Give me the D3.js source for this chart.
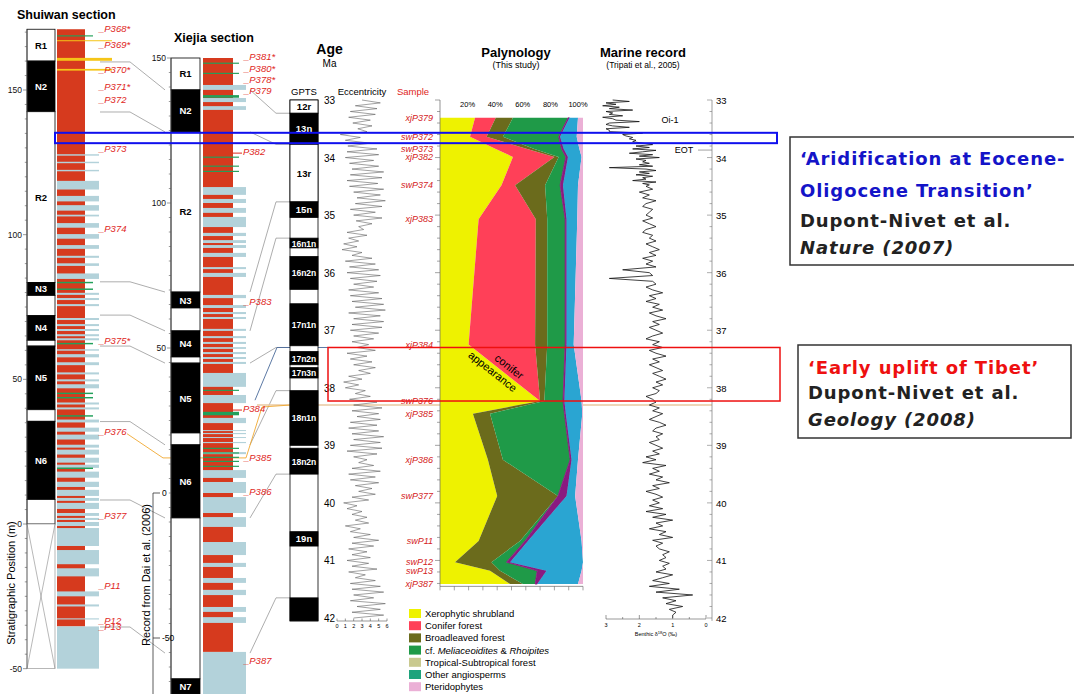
<!DOCTYPE html>
<html><head><meta charset="utf-8">
<script src="https://cdn.jsdelivr.net/npm/d3@7"></script>
<style>body{margin:0;background:#fff}svg{display:block}</style>
</head><body><script>
// ================= DATA =================
// Age axis (Ma)
const ageTicks=[33,34,35,36,37,38,39,40,41,42];
// GPTS chrons
const gptsNames=["12r","13n","13r","15n","16n1n","16n2n","17n1n","17n2n","17n3n","18n1n","18n2n","19n",""];
const gptsTop=[33.0,33.23,33.77,34.77,35.40,35.72,36.54,37.37,37.65,38.05,39.05,40.5,41.65];
const gptsBase=[33.23,33.77,34.77,35.04,35.57,36.29,37.27,37.60,37.83,39.0,39.5,40.75,42.05];
const gptsNormal=[0,1,0,1,1,1,1,1,1,1,1,1,1];
// Eccentricity (0.05 Ma steps from 33.0 Ma)
const eccStart=33.0, eccStep=0.05;
const eccentricity=[3.0,5.2,2.2,4.8,1.6,4.6,1.4,4.0,1.9,4.2,2.5,3.6,0.4,2.8,1.0,4.0,1.3,4.8,1.2,5.0,
1.0,4.4,1.5,5.0,1.8,5.6,1.6,5.4,1.2,4.9,1.5,5.6,2.0,5.2,2.4,5.8,2.2,5.4,1.6,4.6,
2.0,5.4,2.3,4.2,2.6,3.2,1.2,3.6,1.4,2.6,0.8,2.4,0.6,3.0,1.8,4.2,1.0,4.6,1.5,5.0,
1.2,5.2,1.6,4.8,2.0,4.4,1.4,5.0,1.6,5.4,1.8,5.6,2.2,5.8,1.4,5.2,2.0,5.6,1.8,5.4,
1.6,5.0,2.0,4.4,1.8,3.8,2.4,4.6,1.2,3.6,1.6,4.2,2.0,4.6,2.6,4.0,1.4,3.0,0.8,2.6,
1.0,3.4,2.2,4.0,1.5,4.8,2.0,5.4,1.8,5.0,2.4,5.2,1.6,4.8,1.4,5.0,1.8,5.6,2.0,5.2,
1.6,5.4,1.2,4.8,2.0,3.6,2.6,4.4,1.8,5.2,1.4,4.6,1.6,5.0,2.2,4.2,2.6,4.6,1.8,3.8,
0.8,2.4,1.2,3.0,1.8,3.6,2.2,3.8,1.0,2.8,1.6,4.0,2.0,5.0,1.8,4.4,1.4,3.6,1.8,4.0,
1.2,3.8,1.8,4.8,1.4,3.4,2.2,4.6,1.6,5.2,1.8,5.6,2.0,4.4,1.6,5.8,2.4,5.2,1.8,5.6,2.0];
const eccTicks=[0,1,2,3,4,5,6];
// Marine benthic d18O (Tripati et al., 2005)
const marineStartA=33.0, marineStepA=0.025;
const marineA=[2.8,2.3,3.0,2.7,3.1,2.6,2.9,2.2,3.0,2.8,2.9,2.5,3.1,2.8,2.7,2.0,2.9,3.0,2.8,2.3,3.0,2.9,2.9,1.9,
2.5,2.4,2.2,2.3,2.1,2.2,
1.9,1.6,2.1,1.7,2.2,1.5,1.9,2.3,1.6,2.0,1.4,2.1,1.8,1.9,1.7,2.0,1.6,2.9,1.8,1.5,2.0,1.7,2.1,1.6,1.9,1.8,2.2,1.5,1.9,1.7];
const marineStartB=34.5, marineStepB=0.05;
const marineB=[1.8,1.6,2.0,1.7,1.9,1.5,1.8,1.9,1.6,1.7,
1.8,1.6,1.9,1.7,1.5,1.8,1.9,1.6,1.7,1.5,1.8,1.6,1.4,1.7,1.5,1.9,1.6,1.8,1.5,2.5,
1.7,1.6,2.9,1.6,1.5,1.8,1.6,1.3,1.7,1.5,1.8,1.4,1.6,1.3,1.7,1.5,1.2,1.6,1.4,1.7,
1.5,1.3,1.6,1.8,1.4,1.6,1.3,1.7,1.5,1.2,1.6,1.4,1.7,1.5,1.3,1.6,1.4,1.2,1.5,1.3,
1.6,1.4,1.5,1.8,1.6,1.5,1.7,1.4,1.6,1.3,1.5,1.7,1.4,1.2,1.5,1.6,1.3,1.5,1.4,1.7,
1.5,1.3,1.6,1.4,1.8,1.5,1.9,1.2,1.6,1.4,1.7,1.3,1.5,1.1,1.6,1.4,1.8,1.5,1.3,1.6,
1.4,1.7,1.3,1.8,1.2,1.6,1.0,1.5,1.3,1.7,1.2,1.4,1.0,1.6,1.3,1.5,1.4,1.1,1.3,1.2,
1.4,1.1,1.3,1.2,1.5,1.0,1.3,1.6,1.1,1.7,0.8,1.5,0.4,1.3,0.9,1.2,0.7,1.1,0.9,1.0,1.0];
const marineTicks=[3,2,1,0];
// Palynology samples (%)
const sampleNames=["xjP379","swP372","swP373","xjP382","swP374","xjP383","xjP384","swP376","xjP385","xjP386","swP377","swP11","swP12","swP13","xjP387"];
const sampleAges=[33.31,33.64,33.85,33.99,34.48,35.07,37.25,38.23,38.45,39.25,39.88,40.66,41.03,41.18,41.41];
const xerophytic=[24.5,21,39,51,43,27,20,70,23,33.5,40,27,10.5,35,49];
const conifer=[14.5,11.6,22,29,9.5,40,46.5,0,0,0,0,0,0,0,0];
const broadleaved=[12,11.4,5,3,21,8,8.5,3,12,10.5,42.5,29,25.5,7,9];
const meliaceoidites=[38.5,39,19,5,10.5,12.5,12.5,13,52,47,0,3.5,10.5,26,8.5];
const tropical=[0,0,0,0,0,0,0,0,0,0,0,0,0,0,0];
const otherAngio=[0,0,0,0,0,0,0,0,0,0,0,0,0,0,0];
const purpleGroup=[1,1,1.5,1.5,2,1,1,1,1,1,6,2,2.5,6.5,1.5];
const blueGroup=[6,11.6,11,9.5,10.5,7.5,5,12,11.5,4.5,6,37.5,51,24.5,28.5];
const pteridophytes=[3.5,4.4,2.5,1,3.5,4,6.5,1,0.5,3.5,5.5,1,0,1,3.5];
const pctTicks=[20,40,60,80,100];
const legendNames=["Xerophytic shrubland","Conifer forest","Broadleaved forest","cf. Meliaceoidites & Rhoipites","Tropical-Subtropical forest","Other angiosperms","Pteridophytes"];
// Shuiwan section (m)
const swZoneLabels=["R1","N2","R2","N3","","N4","","N5","","N6",""];
const swZoneTops=[171,160,142.5,83.5,79,72,63.5,61.5,39.5,35.5,8.5];
const swZoneBases=[160,142.5,83.5,79,72,63.5,61.5,39.5,35.5,8.5,0];
const swZoneNormal=[0,1,0,1,0,1,0,1,0,1,0];
const swBlue=[[127.8,127.3],[125.2,124.7],[122.4,121.9],[118.6,115.6],[113.4,111.5],[110.2,108.3],[106.9,106.3],[104.0,102.4],[100.2,98.6],[96.4,95.1],
[92.7,92.0],[90.1,89.2],[86.6,84.7],[79.9,79.2],[78.1,77.4],[76.0,75.3],[71.2,70.5],[69.1,68.4],[67.4,66.7],[65.6,64.9],
[64.2,63.5],[60.4,59.9],[58.7,57.6],[55.9,54.9],[52.4,51.7],[50.0,49.3],[48.3,46.9],[42.0,41.3],[40.3,39.6],[36.1,35.1],
[33.3,31.9],[30.9,29.2],[27.4,26.4],[25.7,24.0],[22.9,21.2],[20.5,19.4],[18.1,16.0],[14.6,12.8],[11.8,9.7],[9.0,8.0],
[7.3,5.2],[3.8,2.8],[2.1,1.4],[0.7,-0.7],[-1.4,-7.6],[-9.0,-13.9],[-15.3,-18.1],[-23.3,-25.0],[-27.8,-28.5],[-32.6,-33.0],[-35.4,-50]];
const swGreen=[[168.9,168.5],[83.7,83.2],[81.4,80.9],[62.6,62.1],[45.4,44.9],[43.9,43.4],[37.6,37.1],[19.5,19.0]];
const swYellow=[[167.2,166.9],[161.1,160.1],[157.3,156.7]];
const swSamples=["_P368*","_P369*","_P370*","_P371*","_P372","_P373","_P374","_P375*","_P376","_P377","_P11","_P12","_P13"];
const swSampleM=[170.8,165.3,156.6,150.7,146.2,129.2,101.7,62.8,31.3,2.4,-21.9,-33.7,-36.1];
const swAxisLabels=[150,100,50,0,-50];
// Xiejia section (m)
const xjZoneLabels=["R1","N2","R2","N3","","N4","","N5","","N6","","N7"];
const xjZoneTops=[150,139,124.5,69.3,63.8,55.9,46.9,44.8,20.7,16.6,-8.6,-64.1];
const xjZoneBases=[139,124.5,69.3,63.8,55.9,46.9,44.8,20.7,16.6,-8.6,-64.1,-69.3];
const xjZoneNormal=[0,1,0,1,0,1,0,1,0,1,0,1];
const xjBlue=[[140.7,139.0],[136.2,134.8],[133.4,132.1],[105.5,102.8],[101.4,100.0],[98.3,96.6],[95.2,91.7],[89.7,88.6],[87.2,86.2],[85.5,84.5],
[82.8,81.4],[77.9,77.2],[75.9,74.5],[68.3,67.2],[64.8,63.8],[62.4,61.7],[60.7,60.0],[56.6,55.9],[54.1,53.4],[52.1,51.4],
[50.3,49.7],[48.6,47.9],[46.9,46.2],[45.2,44.5],[41.4,36.6],[33.8,31.0],[25.9,24.1],[21.7,21.4],[20.7,20.3],[19.3,19.0],
[17.6,17.2],[14.1,13.4],[7.9,5.2],[3.8,0],[-1.4,-6.9],[-8.3,-11.7],[-16.9,-21.4],[-24.1,-25.5],[-29.3,-31.0],[-33.4,-35.2],
[-39.3,-41.0],[-42.8,-44.8],[-54.8,-72]];
const xjGreen=[[148.4,148.0],[144.9,144.5],[137.2,136.3],[116.0,115.6],[112.9,112.5],[111.1,110.7],[35.6,35.2],[28.0,26.8],[15.6,15.2],[14.0,13.6],[12.5,12.1],[11.1,10.7],[9.4,9.0]];
const xjSamples=["_P381*","_P380*","_P378*","_P379","P382","_P383","P384","_P385","_P386","_P387"];
const xjSampleM=[150,145.9,142.1,138.3,117.2,65.5,28.6,11.7,0,-58.3];
const xjAxisLabels=[150,100,50];
const daiAxisLabels=[0,-50];
// Correlation ties
const swXjTies=[[159.7,139],[142.4,124.5],[83.7,69.3],[72.2,55.9],[61.5,44.8],[35.4,16.6],[8.3,-8.6],[-35.6,-55.2]];
const xjGptsTies=[[139,33.23],[124.5,33.77],[69.3,34.77],[55.9,35.40],[44.8,37.3],[16.6,38.05],[-8.6,39.5],[-55.2,41.65]];
const p376Tie={sw:31.2,xj:12.1,age:38.3};
const p384Tie={xj:32,age:37.3};
// Highlight intervals (Ma)
const eotBox=[33.57,33.75];
const upliftBox=[37.30,38.23];

// ================= DRAW =================
const FONT="'Liberation Sans', Arial, sans-serif";
const RED="#d63a1e", PALE="#b3d2da", GREEN="#22a05a", YEL="#f5c518";
const svg=d3.select("body").append("svg").attr("width",1074).attr("height",694).style("font-family",FONT);

const ageY=d3.scaleLinear().domain([33,42]).range([100,618]);
const swY=d3.scaleLinear().domain([0,150]).range([524,90]);
const xjY=d3.scaleLinear().domain([50,150]).range([348,58]);
const eccX=d3.scaleLinear().domain([0,6]).range([337,387]);
const pX=d3.scaleLinear().domain([0,100]).range([440,583]);
const mX=d3.scaleLinear().domain([3,0]).range([606,706]);

function bands(g,data,yS,x0,x1,fill){
  g.selectAll(null).data(data).join("rect")
   .attr("x",x0).attr("width",x1-x0)
   .attr("y",d=>yS(d[0])).attr("height",d=>Math.max(1,yS(d[1])-yS(d[0]))).attr("fill",fill);
}
function zones(g,tops,bases,normal,labels,yS,x0,x1){
  const idx=d3.range(tops.length);
  g.selectAll(null).data(idx).join("rect")
   .attr("x",x0).attr("width",x1-x0).attr("y",i=>yS(tops[i])).attr("height",i=>yS(bases[i])-yS(tops[i]))
   .attr("fill",i=>normal[i]?"#000":"#fff").attr("stroke","#000").attr("stroke-width",0.8);
  g.selectAll(null).data(idx.filter(i=>labels[i])).join("text")
   .attr("x",(x0+x1)/2).attr("y",i=>(yS(tops[i])+yS(bases[i]))/2+3.5).attr("text-anchor","middle")
   .attr("font-size",9.5).attr("font-weight","bold").attr("fill",i=>normal[i]?"#fff":"#000").text(i=>labels[i]);
}
function vAxis(g,x,yS,from,to,step,labels,side,labelX,anchor){
  g.append("line").attr("x1",x).attr("x2",x).attr("y1",yS(from)).attr("y2",yS(to)).attr("stroke","#555").attr("stroke-width",0.7);
  const t=d3.range(Math.ceil(to/step)*step,from+0.001,step);
  g.selectAll(null).data(t).join("line").attr("x1",x).attr("x2",d=>x+side*(labels.includes(d)?4:2.2))
   .attr("y1",d=>yS(d)).attr("y2",d=>yS(d)).attr("stroke","#555").attr("stroke-width",0.6);
  g.selectAll(null).data(labels).join("text").attr("x",labelX).attr("y",d=>yS(d)+3).attr("text-anchor",anchor)
   .attr("font-size",8.5).attr("fill","#111").text(d=>d);
}

// ---- correlation lines (behind) ----
const tie=svg.append("g").attr("fill","none").attr("stroke","#8a8a8a").attr("stroke-width",0.7);
swXjTies.forEach(([a,b])=>tie.append("path").attr("d",d3.line()([[100,swY(a)],[130,swY(a)],[165,xjY(b)]])));
xjGptsTies.forEach(([m,a])=>tie.append("path").attr("d",d3.line()([[250,xjY(m)],[276,ageY(a)],[290,ageY(a)]])));
svg.append("line").attr("x1",257).attr("x2",712).attr("y1",ageY(p376Tie.age)).attr("y2",ageY(p376Tie.age))
  .attr("stroke","#e9c9a0").attr("stroke-width",1.6);
svg.append("path").attr("fill","none").attr("stroke","#f0a830").attr("stroke-width",0.9)
  .attr("d",d3.line()([[127,swY(p376Tie.sw)],[163,xjY(p376Tie.xj)],[246,xjY(p376Tie.xj)],[262,ageY(p376Tie.age)+2],[290,ageY(p376Tie.age)]]));
svg.append("path").attr("fill","none").attr("stroke","#4a6a9a").attr("stroke-width",0.9)
  .attr("d",d3.line()([[255,xjY(p384Tie.xj)],[277,ageY(p384Tie.age)],[330,ageY(p384Tie.age)]]));

// ---- Shuiwan section ----
const sw=svg.append("g");
sw.append("text").attr("x",17).attr("y",19).attr("font-size",12.5).attr("font-weight","bold").text("Shuiwan section");
sw.append("rect").attr("x",57).attr("width",28).attr("y",swY(171)).attr("height",swY(-35.4)-swY(171)).attr("fill",RED);
bands(sw,swBlue,swY,57,99,PALE);
bands(sw,swGreen,swY,57,93,GREEN);
bands(sw,swYellow,swY,57,112,YEL);
zones(sw,swZoneTops,swZoneBases,swZoneNormal,swZoneLabels,swY,27,55);
sw.append("rect").attr("x",27).attr("width",28).attr("y",swY(0)).attr("height",swY(-50)-swY(0)).attr("fill","#fff").attr("stroke","#888").attr("stroke-width",0.6);
sw.append("path").attr("fill","none").attr("stroke","#888").attr("stroke-width",0.6)
  .attr("d",`M27,${swY(0)}L55,${swY(-50)}M55,${swY(0)}L27,${swY(-50)}`);
vAxis(sw,27,swY,171,-50,5,swAxisLabels,-1,22,"end");
sw.selectAll(null).data(swSamples).join("text").attr("x",99).attr("y",(d,i)=>swY(swSampleM[i])+2)
  .attr("font-size",9.5).attr("font-style","italic").attr("fill","#e0261c").text(d=>d);
sw.append("text").attr("transform",`translate(15,583) rotate(-90)`).attr("text-anchor","middle").attr("font-size",11).text("Stratigraphic Position (m)");

// ---- Xiejia section ----
const xj=svg.append("g");
xj.append("text").attr("x",174).attr("y",42).attr("font-size",12.5).attr("font-weight","bold").text("Xiejia section");
xj.append("rect").attr("x",203).attr("width",30).attr("y",xjY(150)).attr("height",xjY(-54.8)-xjY(150)).attr("fill",RED);
bands(xj,xjBlue,xjY,203,246,PALE);
bands(xj,xjGreen,xjY,203,239,GREEN);
zones(xj,xjZoneTops,xjZoneBases,xjZoneNormal,xjZoneLabels,xjY,171,200);
vAxis(xj,171,xjY,150,-72,5,xjAxisLabels,-1,166,"end");
// Dai et al. axis
xj.append("line").attr("x1",153).attr("x2",153).attr("y1",xjY(0)).attr("y2",694).attr("stroke","#333").attr("stroke-width",0.8);
xj.selectAll(null).data(daiAxisLabels).join("line").attr("x1",153).attr("x2",160).attr("y1",d=>xjY(d)).attr("y2",d=>xjY(d)).attr("stroke","#333").attr("stroke-width",0.8);
xj.selectAll(null).data(daiAxisLabels).join("text").attr("x",162).attr("y",d=>xjY(d)+3).attr("font-size",8.5).text(d=>d);
xj.append("text").attr("transform",`translate(150,575) rotate(-90)`).attr("text-anchor","middle").attr("font-size",11).text("Record from Dai et al. (2006)");
xj.selectAll(null).data(xjSamples).join("text").attr("x",(d)=>d.startsWith("_")?244:243).attr("y",(d,i)=>xjY(xjSampleM[i])+2)
  .attr("font-size",9.5).attr("font-style","italic").attr("fill","#e0261c").text(d=>d);
xj.selectAll(null).data(xjSamples.map((d,i)=>i).filter(i=>!xjSamples[i].startsWith("_"))).join("line")
  .attr("x1",233).attr("x2",242).attr("y1",i=>xjY(xjSampleM[i])).attr("y2",i=>xjY(xjSampleM[i])).attr("stroke","#e0261c").attr("stroke-width",1);

// ---- Age / GPTS ----
const gp=svg.append("g");
gp.append("text").attr("x",329.5).attr("y",54).attr("text-anchor","middle").attr("font-size",14).attr("font-weight","bold").text("Age");
gp.append("text").attr("x",329.5).attr("y",67).attr("text-anchor","middle").attr("font-size",10).text("Ma");
gp.append("text").attr("x",304).attr("y",95).attr("text-anchor","middle").attr("font-size",9.5).text("GPTS");
gp.append("text").attr("x",362).attr("y",95).attr("text-anchor","middle").attr("font-size",9.5).text("Eccentricity");
gp.append("text").attr("x",413).attr("y",95).attr("text-anchor","middle").attr("font-size",9.5).attr("fill","#e0261c").text("Sample");
gp.append("rect").attr("x",290).attr("width",28).attr("y",ageY(33)).attr("height",ageY(42.05)-ageY(33)).attr("fill","#fff").attr("stroke","#000").attr("stroke-width",0.8);
zones(gp,gptsTop,gptsBase,gptsNormal,gptsNames,ageY,290,318);
gp.selectAll("text").filter(function(){return /n1n|n2n|n3n/.test(this.textContent);}).attr("font-size",8.5);
gp.selectAll(null).data(ageTicks).join("text").attr("x",329.5).attr("y",d=>ageY(d)+4).attr("text-anchor","middle").attr("font-size",10).text(d=>d);
// eccentricity
gp.append("path").datum(eccentricity).attr("fill","none").attr("stroke","#555").attr("stroke-width",0.55)
  .attr("d",d3.line().x(d=>eccX(d)).y((d,i)=>ageY(eccStart+i*eccStep)));
gp.append("line").attr("x1",337).attr("x2",387).attr("y1",621).attr("y2",621).attr("stroke","#555").attr("stroke-width",0.6);
gp.selectAll(null).data(eccTicks).join("line").attr("x1",d=>eccX(d)).attr("x2",d=>eccX(d)).attr("y1",621).attr("y2",618.5).attr("stroke","#555").attr("stroke-width",0.6);
gp.selectAll(null).data(eccTicks).join("text").attr("x",d=>eccX(d)).attr("y",628).attr("text-anchor","middle").attr("font-size",5.5).text(d=>d);

// ---- Palynology ----
const pg=svg.append("g");
pg.append("text").attr("x",516).attr("y",57).attr("text-anchor","middle").attr("font-size",13).attr("font-weight","bold").text("Palynology");
pg.append("text").attr("x",516).attr("y",68).attr("text-anchor","middle").attr("font-size",9).text("(This study)");
const keys=["xero","conifer","broad","melia","tropical","otherAng","purple","blue","pterido"];
const colors={xero:"#eef200",conifer:"#ff4058",broad:"#6b6b1c",melia:"#1f9a48",tropical:"#c9c98f",otherAng:"#1ea37c",purple:"#8a1a80",blue:"#2aa5d2",pterido:"#ebb0d6"};
const rows=sampleAges.map((a,i)=>({age:a,xero:xerophytic[i],conifer:conifer[i],broad:broadleaved[i],melia:meliaceoidites[i],tropical:tropical[i],otherAng:otherAngio[i],purple:purpleGroup[i],blue:blueGroup[i],pterido:pteridophytes[i]}));
const stacked=d3.stack().keys(keys)(rows);
pg.selectAll(null).data(stacked).join("path").attr("fill",s=>colors[s.key]).attr("stroke",s=>s.key==="purple"?colors.purple:"none").attr("stroke-width",0.8)
  .attr("d",d3.area().y(d=>ageY(d.data.age)).x0(d=>pX(d[0])).x1(d=>pX(d[1])));
// axes
pg.append("line").attr("x1",440).attr("x2",440).attr("y1",ageY(33)).attr("y2",ageY(41.45)).attr("stroke","#666").attr("stroke-width",0.7);
pg.selectAll(null).data(d3.range(33,41.41,0.2)).join("line").attr("x1",440).attr("x2",d=>Math.abs(d-Math.round(d))<0.01?435:437)
  .attr("y1",d=>ageY(d)).attr("y2",d=>ageY(d)).attr("stroke","#666").attr("stroke-width",0.6);
pg.append("line").attr("x1",440).attr("x2",583).attr("y1",ageY(41.45)).attr("y2",ageY(41.45)).attr("stroke","#666").attr("stroke-width",0.7);
pg.selectAll(null).data(d3.range(0,101,10)).join("line").attr("x1",d=>pX(d)).attr("x2",d=>pX(d)).attr("y1",ageY(41.45)).attr("y2",ageY(41.45)+4).attr("stroke","#666").attr("stroke-width",0.6);
pg.selectAll(null).data(pctTicks).join("text").attr("x",d=>pX(d)-d*0.05).attr("y",107).attr("text-anchor","middle").attr("font-size",7.5).text(d=>d+"%");
pg.selectAll(null).data(sampleNames).join("text").attr("x",433).attr("y",(d,i)=>ageY(sampleAges[i])+3).attr("text-anchor","end")
  .attr("font-size",9).attr("font-style","italic").attr("fill","#d42222").text(d=>d);
// conifer appearance label along the xerophytic/conifer edge
{
  const i0=sampleNames.indexOf("xjP384"), i1=sampleNames.indexOf("swP376");
  const xa=pX(xerophytic[i0]), ya=ageY(sampleAges[i0]), xb=pX(xerophytic[i1]), yb=ageY(sampleAges[i1]);
  const ang=Math.atan2(yb-ya,xb-xa)*180/Math.PI, mx=(xa+xb)/2, my=(ya+yb)/2;
  pg.append("text").attr("transform",`translate(${mx},${my}) rotate(${ang}) translate(0,-4)`).attr("text-anchor","middle").attr("font-size",11).text("conifer");
  pg.append("text").attr("transform",`translate(${mx},${my}) rotate(${ang}) translate(-10,10)`).attr("text-anchor","middle").attr("font-size",11).text("appearance");
}
// legend
const lg=pg.append("g");
const legendColors=[colors.xero,colors.conifer,colors.broad,colors.melia,colors.tropical,colors.otherAng,colors.pterido];
legendNames.forEach((n,i)=>{
  const y=609+i*12.2;
  lg.append("rect").attr("x",409).attr("y",y).attr("width",12).attr("height",9).attr("fill",legendColors[i]);
  const t=lg.append("text").attr("x",425).attr("y",y+8).attr("font-size",9.5);
  if(n.startsWith("cf.")){
    t.append("tspan").text("cf. ");t.append("tspan").attr("font-style","italic").text("Meliaceoidites");
    t.append("tspan").text(" & ");t.append("tspan").attr("font-style","italic").text("Rhoipites");
  } else t.text(n);
});

// ---- Marine record ----
const mg=svg.append("g");
mg.append("text").attr("x",643).attr("y",57).attr("text-anchor","middle").attr("font-size",13).attr("font-weight","bold").text("Marine record");
mg.append("text").attr("x",643).attr("y",68).attr("text-anchor","middle").attr("font-size",8.5).text("(Tripati et al., 2005)");
const marinePts=marineA.map((v,i)=>[marineStartA+i*marineStepA,v]).concat(marineB.map((v,i)=>[marineStartB+i*marineStepB,v]));
mg.append("path").datum(marinePts).attr("fill","none").attr("stroke","#111").attr("stroke-width",0.8)
  .attr("d",d3.line().x(d=>mX(d[1])).y(d=>ageY(d[0])));
mg.append("line").attr("x1",712).attr("x2",712).attr("y1",ageY(33)).attr("y2",ageY(42.05)).attr("stroke","#777").attr("stroke-width",0.7);
mg.selectAll(null).data(d3.range(33,42.01,0.2)).join("line").attr("x1",712).attr("x2",d=>Math.abs(d-Math.round(d))<0.01?707:709.5)
  .attr("y1",d=>ageY(d)).attr("y2",d=>ageY(d)).attr("stroke","#777").attr("stroke-width",0.6);
mg.selectAll(null).data(ageTicks).join("text").attr("x",716).attr("y",d=>ageY(d)+4).attr("font-size",9.5).text(d=>d);
mg.append("line").attr("x1",606).attr("x2",706).attr("y1",619).attr("y2",619).attr("stroke","#555").attr("stroke-width",0.6);
mg.selectAll(null).data(d3.range(0,3.01,0.5)).join("line").attr("x1",d=>mX(d)).attr("x2",d=>mX(d)).attr("y1",619).attr("y2",d=>d%1===0?615:617).attr("stroke","#555").attr("stroke-width",0.6);
mg.selectAll(null).data(marineTicks).join("text").attr("x",d=>mX(d)).attr("y",627).attr("text-anchor","middle").attr("font-size",5.5).text(d=>d);
const bl=mg.append("text").attr("x",656).attr("y",636).attr("text-anchor","middle").attr("font-size",5.5);
bl.append("tspan").text("Benthic δ");bl.append("tspan").attr("font-size",4).attr("dy",-2).text("18");bl.append("tspan").attr("dy",2).text("O (‰)");
mg.append("text").attr("x",670).attr("y",123).attr("text-anchor","middle").attr("font-size",9).text("Oi-1");
mg.append("text").attr("x",684).attr("y",ageY(33.87)+3).attr("text-anchor","middle").attr("font-size",9).text("EOT");
mg.append("line").attr("x1",698).attr("x2",712).attr("y1",ageY(33.87)).attr("y2",ageY(33.87)).attr("stroke","#777").attr("stroke-width",0.7);

// ---- highlight boxes ----
svg.append("rect").attr("x",55).attr("width",722).attr("y",ageY(eotBox[0])).attr("height",ageY(eotBox[1])-ageY(eotBox[0]))
  .attr("fill","none").attr("stroke","#1010ee").attr("stroke-width",2);
svg.append("rect").attr("x",328).attr("width",452).attr("y",ageY(upliftBox[0])).attr("height",ageY(upliftBox[1])-ageY(upliftBox[0]))
  .attr("fill","none").attr("stroke","#ee1010").attr("stroke-width",1.5);

// ---- annotation boxes ----
const AF="'DejaVu Sans', Verdana, sans-serif";
const a1=svg.append("g").style("font-family",AF).attr("font-weight","bold").attr("font-size",18).attr("letter-spacing",0.9);
a1.append("rect").attr("x",790).attr("y",137).attr("width",295).attr("height",128).attr("fill","#fff").attr("stroke","#333").attr("stroke-width",1.5);
a1.append("text").attr("x",800).attr("y",165).attr("fill","#1414c8").text("‘Aridification at Eocene-");
a1.append("text").attr("x",800).attr("y",197).attr("fill","#1414c8").text("Oligocene Transition’");
a1.append("text").attr("x",800).attr("y",227).attr("fill","#222").text("Dupont-Nivet et al.");
a1.append("text").attr("x",800).attr("y",254).attr("fill","#222").attr("font-style","italic").text("Nature (2007)");
const a2=svg.append("g").style("font-family",AF).attr("font-weight","bold").attr("font-size",18).attr("letter-spacing",0.9);
a2.append("rect").attr("x",798).attr("y",345).attr("width",273).attr("height",93).attr("fill","#fff").attr("stroke","#333").attr("stroke-width",1.5);
a2.append("text").attr("x",808).attr("y",374).attr("fill","#ee1010").text("‘Early uplift of Tibet’");
a2.append("text").attr("x",808).attr("y",399).attr("fill","#222").text("Dupont-Nivet et al.");
a2.append("text").attr("x",808).attr("y",426).attr("fill","#222").attr("font-style","italic").text("Geology (2008)");
</script></body></html>
